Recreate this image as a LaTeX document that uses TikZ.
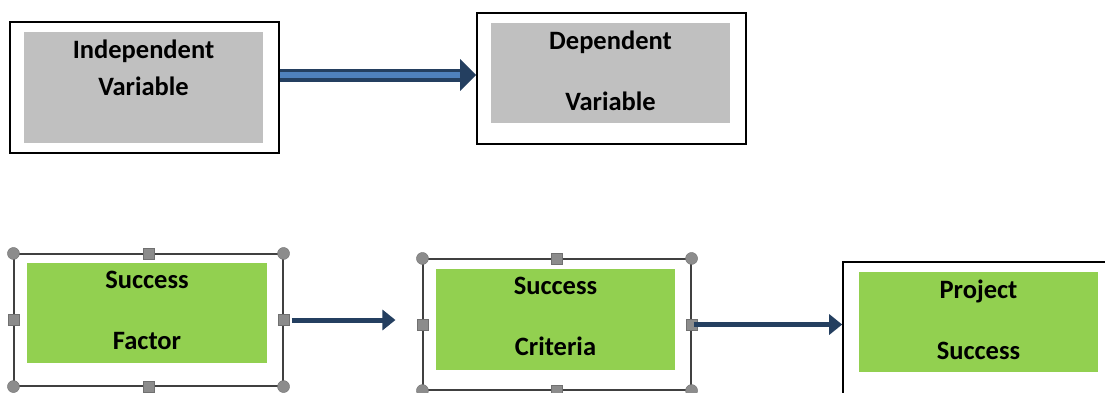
\documentclass[tikz,border=0pt]{standalone}
\usepackage{fontspec}
\setmainfont{Carlito}
\usetikzlibrary{arrows.meta,positioning}
\definecolor{boxgrey}{HTML}{C0C0C0}
\definecolor{boxgreen}{HTML}{92D050}
\definecolor{navy}{HTML}{243F60}
\definecolor{arrowblue}{HTML}{4F81BD}
\definecolor{handlegrey}{HTML}{8C8C8C}
\begin{document}
\begin{tikzpicture}[x=1pt,y=-1pt,
    frame/.style={draw=black,line width=1.6pt,inner sep=0pt,minimum width=269pt,minimum height=131pt},
    selframe/.style={draw=black!75,line width=1.1pt,inner sep=0pt,minimum width=268pt,minimum height=131pt},
    greybox/.style={fill=boxgrey,inner sep=0pt,minimum width=239pt},
    greenbox/.style={fill=boxgreen,inner sep=0pt,minimum width=239pt,minimum height=100pt},
    lbl/.style={font=\bfseries\fontsize{26.5}{31}\selectfont,align=center,inner sep=0pt},
    hcirc/.style={circle,fill=handlegrey,draw=handlegrey!80!black,inner sep=0pt,minimum size=12pt},
    hsq/.style={rectangle,fill=handlegrey,draw=handlegrey!80!black,inner sep=0pt,minimum size=11pt},
    navyarrow/.style={draw=navy,line width=5pt,-{Triangle[length=13pt,width=20pt]}}]
    \clip (0,0) rectangle (1105,392);
    % top row
    \node[frame] (indep) at (144.5,87.5) {};
    \node[greybox,minimum height=111pt] (indepin) at (143.5,87.5) {};
    \node[lbl,below=8pt of indepin.north] (indeplbl) {Independent\\[6pt]Variable};
    \node[frame] (dep) at (611.5,78.5) {};
    \node[greybox,minimum height=100pt] (depin) at (610.5,73) {};
    \node[lbl,below=8pt of depin.north] (deplbl) {Dependent\\[30pt]Variable};
    \coordinate (tip) at ([yshift=3.5pt]dep.west);
    \draw[draw=navy,line width=13pt,-{Triangle[length=16pt,width=31pt]}] (indep.east |- tip) -- (tip);
    \draw[arrowblue,line width=6pt] (indep.east |- tip) -- ([xshift=-16pt]tip);
    % bottom row
    \node[selframe,minimum width=269pt,minimum height=132pt] (factor) at (148.5,320) {};
    \node[greenbox,minimum width=240pt] (factorin) at (147,313) {};
    \node[lbl,below=8pt of factorin.north] (factorlbl) {Success\\[30pt]Factor};
    \node[selframe] (criteria) at (557,324.5) {};
    \node[greenbox,minimum height=101pt] (criteriain) at (555.5,319.5) {};
    \node[lbl,below=8pt of criteriain.north] (criterialbl) {Success\\[30pt]Criteria};
    \node[frame,minimum width=272pt,minimum height=138pt] (proj) at (979,331) {};
    \node[greenbox] (projin) at (978.5,322) {};
    \node[lbl,below=8pt of projin.north] (projlbl) {Project\\[30pt]Success};
    % selection handles
    \foreach \b in {factor,criteria}{
        \foreach \a/\n in {north west/1,north east/2,south west/3,south east/4}
            \node[hcirc] (\b c\n) at (\b.\a) {};
        \foreach \a/\n in {north/1,south/2,west/3,east/4}
            \node[hsq] (\b s\n) at (\b.\a) {};
    }
    \coordinate (fend) at ([xshift=-27pt]criteria.west |- factor.east);
    \draw[navyarrow] ([xshift=8pt]factor.east) -- (fend);
    \coordinate (cend) at (proj.west |- criteria.east);
    \draw[navyarrow] ([xshift=2pt]criteria.east) -- (cend);
\end{tikzpicture}
\end{document}
